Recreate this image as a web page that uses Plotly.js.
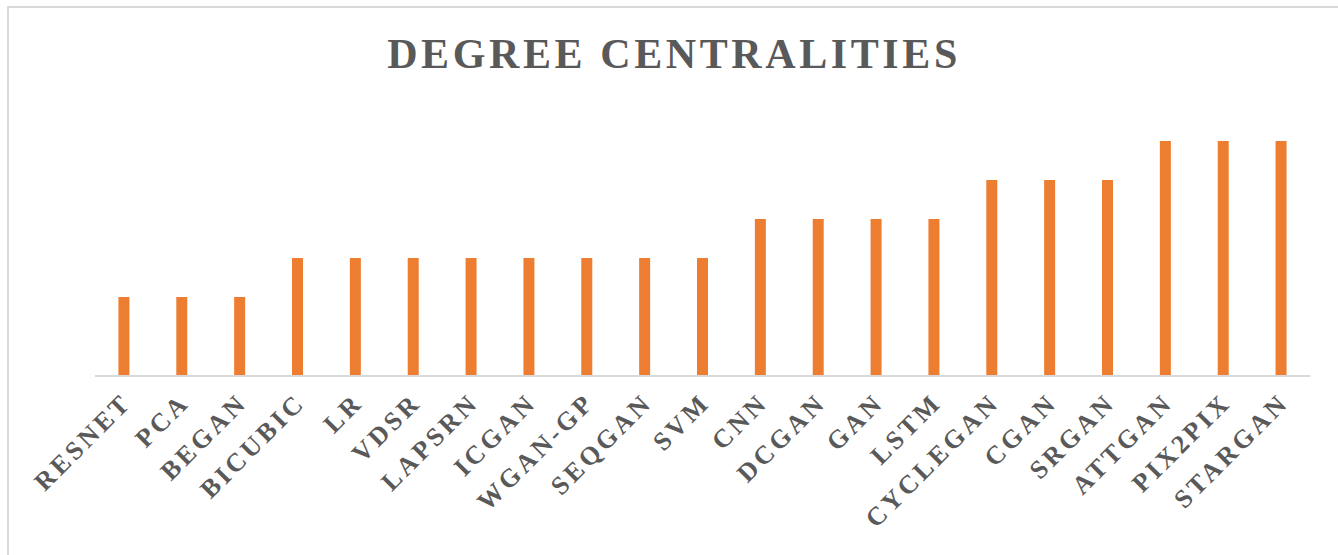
<!DOCTYPE html>
<html>
<head>
<meta charset="utf-8">
<script src="https://cdn.plot.ly/plotly-3.0.1.min.js"></script>
<style>
  html, body { margin: 0; padding: 0; background: #fff; overflow: hidden; width: 1338px; height: 555px; }
  #chart { width: 1338px; height: 555px; position: relative; }
  #frameTop { position: absolute; left: 7px; top: 6px; width: 1331px; height: 2px; background: #d9d9d9; pointer-events: none; }
  #frameLeft { position: absolute; left: 7px; top: 6px; width: 2px; height: 549px; background: #d9d9d9; pointer-events: none; }
  .gtitle { letter-spacing: 3.6px; }
  .xtick text { letter-spacing: 3.5px; }
</style>
</head>
<body>
<div id="chart"></div>
<div id="frameTop"></div>
<div id="frameLeft"></div>
<script>
const categories = ["RESNET","PCA","BEGAN","BICUBIC","LR","VDSR","LAPSRN","ICGAN","WGAN-GP","SEQGAN","SVM","CNN","DCGAN","GAN","LSTM","CYCLEGAN","CGAN","SRGAN","ATTGAN","PIX2PIX","STARGAN"];
const degreeValues = [2,2,2,3,3,3,3,3,3,3,3,4,4,4,4,5,5,5,6,6,6];
const chartTitle = "DEGREE CENTRALITIES";

const trace = {
  type: "bar",
  x: categories,
  y: degreeValues,
  marker: { color: "#ED7D31" },
  hoverinfo: "x+y"
};

const layout = {
  width: 1338,
  height: 555,
  margin: { l: 95, r: 28, t: 102, b: 180 },
  paper_bgcolor: "#ffffff",
  plot_bgcolor: "#ffffff",
  bargap: 0.81,
  showlegend: false,
  title: {
    text: "<b>" + chartTitle + "</b>",
    font: { family: "Liberation Serif, Times New Roman, serif", size: 42, color: "#595959" },
    x: 0.5 + 5/1338, xanchor: "center", xref: "container",
    y: 1 - 53/555, yanchor: "middle", yref: "container"
  },
  xaxis: {
    type: "category",
    tickangle: -45,
    showline: true,
    linecolor: "#d9d9d9",
    linewidth: 1.5,
    showgrid: false,
    ticks: "",
    zeroline: false,
    automargin: false,
    tickfont: { family: "Liberation Serif, Times New Roman, serif", size: 26, color: "#595959", weight: "bold" }
  },
  yaxis: {
    range: [0, 7],
    visible: false,
    showgrid: false,
    zeroline: false,
    automargin: false
  }
};

Plotly.newPlot("chart", [trace], layout, { displayModeBar: false, staticPlot: true });
</script>
</body>
</html>
